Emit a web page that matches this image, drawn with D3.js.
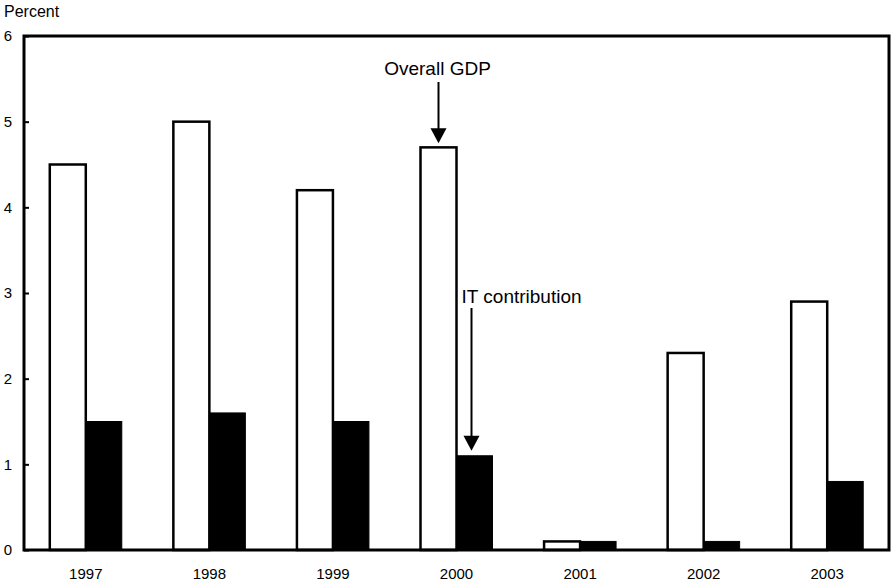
<!DOCTYPE html>
<html>
<head>
<meta charset="utf-8">
<script src="https://cdn.jsdelivr.net/npm/d3@7"></script>
<style>
  html, body { margin: 0; padding: 0; background: #fff; }
  svg { display: block; font-family: "Liberation Sans", Arial, sans-serif; }
</style>
</head>
<body>
<svg id="chart" width="892" height="581"></svg>
<script>
const years = ["1997", "1998", "1999", "2000", "2001", "2002", "2003"];
const overallGDP = [4.5, 5.0, 4.2, 4.7, 0.1, 2.3, 2.9];
const itContribution = [1.5, 1.6, 1.5, 1.1, 0.1, 0.1, 0.8];
const yTicks = [0, 1, 2, 3, 4, 5, 6];
const yLabel = "Percent";
const annotations = [
  { text: "Overall GDP", year: "2000", series: "gdp" },
  { text: "IT contribution", year: "2000", series: "it" }
];

(function () {
const svg = d3.select("#chart");
const mLeft = 24, mRight = 889, mTop = 36, mBottom = 550;

const x = d3.scaleBand().domain(years).range([mLeft, mRight]).padding(0);
const y = d3.scaleLinear().domain([0, 6]).range([mBottom, mTop]);
const barW = 36;

const rows = years.map((yr, i) => ({ year: yr, gdp: overallGDP[i], it: itContribution[i] }));

// bars
const g = svg.append("g");
g.selectAll("rect.gdp").data(rows).join("rect")
  .attr("class", "gdp")
  .attr("x", d => x(d.year) + x.bandwidth() / 2 - barW)
  .attr("y", d => y(d.gdp))
  .attr("width", barW)
  .attr("height", d => y(0) - y(d.gdp))
  .attr("fill", "#fff").attr("stroke", "#000").attr("stroke-width", 2.5);

g.selectAll("rect.it").data(rows).join("rect")
  .attr("class", "it")
  .attr("x", d => x(d.year) + x.bandwidth() / 2)
  .attr("y", d => y(d.it))
  .attr("width", barW)
  .attr("height", d => y(0) - y(d.it))
  .attr("fill", "#000").attr("stroke", "#000").attr("stroke-width", 1);

// frame
svg.append("rect")
  .attr("x", mLeft).attr("y", mTop)
  .attr("width", mRight - mLeft).attr("height", mBottom - mTop)
  .attr("fill", "none").attr("stroke", "#000").attr("stroke-width", 3);

// y axis (ticks inside)
const yAxis = d3.axisLeft(y).tickValues(yTicks).tickSize(-5).tickPadding(12).tickFormat(d3.format("d"));
const ya = svg.append("g").attr("transform", `translate(${mLeft},0)`).call(yAxis);
ya.select(".domain").remove();
ya.selectAll(".tick line").attr("stroke", "#000").attr("stroke-width", 2);
ya.selectAll(".tick text").attr("font-size", 15).attr("fill", "#000")
  .attr("font-family", "Liberation Sans, Arial, sans-serif");

// x axis labels
const xAxis = d3.axisBottom(x).tickSize(0).tickPadding(18);
const xa = svg.append("g").attr("transform", `translate(0,${mBottom})`).call(xAxis);
xa.select(".domain").remove();
xa.selectAll(".tick text").attr("font-size", 15).attr("fill", "#000")
  .attr("font-family", "Liberation Sans, Arial, sans-serif");

// y label
svg.append("text").attr("x", 4).attr("y", 17).attr("font-size", 16).attr("fill", "#000").text(yLabel);

function arrow(cx, y1, tipY) {
  svg.append("line").attr("x1", cx).attr("x2", cx).attr("y1", y1).attr("y2", tipY - 14)
    .attr("stroke", "#000").attr("stroke-width", 2);
  svg.append("path").attr("d", `M${cx - 8},${tipY - 15} L${cx + 8},${tipY - 15} L${cx},${tipY} Z`).attr("fill", "#000");
}

// Overall GDP
{
  const d = rows.find(r => r.year === annotations[0].year);
  const cx = x(d.year) + x.bandwidth() / 2 - barW / 2;
  const tipY = y(d.gdp) - 4;
  svg.append("text").attr("x", cx - 1).attr("y", 75).attr("text-anchor", "middle")
    .attr("font-size", 19).attr("fill", "#000").text(annotations[0].text);
  arrow(cx, 82, tipY);
}
// IT contribution
{
  const d = rows.find(r => r.year === annotations[1].year);
  const cx = x(d.year) + x.bandwidth() / 2 + barW / 2 - 3;
  const tipY = y(d.it) - 5;
  svg.append("text").attr("x", cx - 10).attr("y", 303).attr("text-anchor", "start")
    .attr("font-size", 19).attr("fill", "#000").text(annotations[1].text);
  arrow(cx, 308, tipY);
}
})();
</script>
</body>
</html>
